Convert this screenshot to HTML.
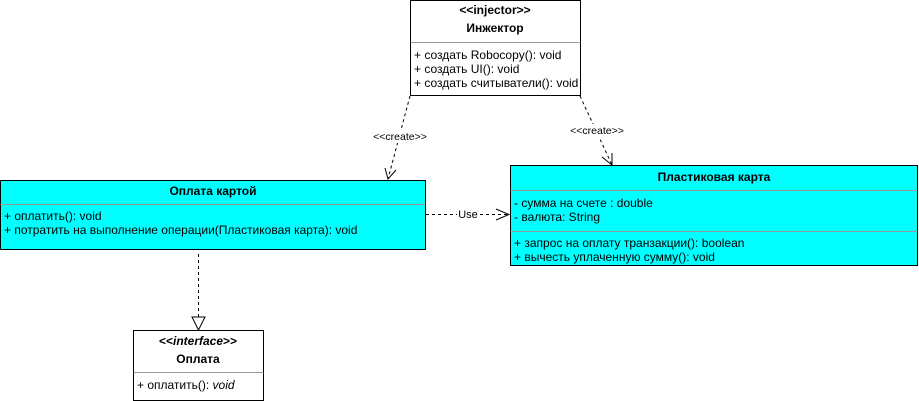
<!DOCTYPE html>
<html><head><meta charset="utf-8"><style>
html,body{margin:0;padding:0;background:#fff;width:919px;height:401px;overflow:hidden}
svg text{font-family:"Liberation Sans","DejaVu Sans",sans-serif;fill:#000}
</style></head><body>
<svg width="919" height="401" xmlns="http://www.w3.org/2000/svg">
<!-- Injector -->
<rect x="410.5" y="0.5" width="170" height="95" fill="#fff" stroke="#000"/>
<line x1="410.5" y1="42.5" x2="580.5" y2="42.5" stroke="#999"/>
<text x="495" y="14" font-size="12" font-weight="bold" text-anchor="middle">&lt;&lt;injector&gt;&gt;</text>
<text x="495" y="32" font-size="12" font-weight="bold" text-anchor="middle">Инжектор</text>
<text x="414" y="59" font-size="12">+ создать Robocopy(): void</text>
<text x="414" y="73" font-size="12">+ создать UI(): void</text>
<text x="414" y="87" font-size="12">+ создать считыватели(): void</text>

<!-- Оплата картой -->
<rect x="0.5" y="180.5" width="425" height="69" fill="#00ffff" stroke="#000"/>
<line x1="0.5" y1="204.5" x2="425.5" y2="204.5" stroke="#999"/>
<text x="213" y="195" font-size="12" font-weight="bold" text-anchor="middle">Оплата картой</text>
<text x="4" y="220" font-size="12">+ оплатить(): void</text>
<text x="4" y="234" font-size="12">+ потратить на выполнение операции(Пластиковая карта): void</text>

<!-- Пластиковая карта -->
<rect x="510.5" y="165.5" width="407" height="100" fill="#00ffff" stroke="#000"/>
<line x1="510.5" y1="190.5" x2="917.5" y2="190.5" stroke="#999"/>
<line x1="510.5" y1="231.5" x2="917.5" y2="231.5" stroke="#999"/>
<text x="714" y="181" font-size="12" font-weight="bold" text-anchor="middle">Пластиковая карта</text>
<text x="514" y="207" font-size="12">- сумма на счете : double</text>
<text x="514" y="221" font-size="12">- валюта: String</text>
<text x="514" y="247" font-size="12">+ запрос на оплату транзакции(): boolean</text>
<text x="514" y="261" font-size="12">+ вычесть уплаченную сумму(): void</text>

<!-- Оплата interface -->
<rect x="133.5" y="330.5" width="130" height="70" fill="#fff" stroke="#000"/>
<line x1="133.5" y1="372.5" x2="263.5" y2="372.5" stroke="#999"/>
<text x="198" y="345" font-size="12" font-weight="bold" text-anchor="middle">&lt;&lt;<tspan font-style="italic">interface</tspan>&gt;&gt;</text>
<text x="198" y="363" font-size="12" font-weight="bold" text-anchor="middle">Оплата</text>
<text x="137" y="389" font-size="12">+ оплатить(): <tspan font-style="italic">void</tspan></text>

<!-- create arrows -->
<line x1="410" y1="96" x2="388" y2="179" stroke="#000" stroke-dasharray="3,3"/>
<polyline points="385,168 388,179 396,170" fill="none" stroke="#000"/>
<rect x="370" y="130" width="60" height="13" fill="#fff"/>
<text x="400" y="140" font-size="10.5" text-anchor="middle">&lt;&lt;create&gt;&gt;</text>

<line x1="580" y1="96" x2="612" y2="165" stroke="#000" stroke-dasharray="3,3"/>
<polyline points="602,157 612,165 612,153" fill="none" stroke="#000"/>
<rect x="567" y="124" width="60" height="13" fill="#fff"/>
<text x="597" y="134" font-size="10.5" text-anchor="middle">&lt;&lt;create&gt;&gt;</text>

<!-- Use -->
<line x1="426" y1="214.5" x2="509" y2="214.5" stroke="#000" stroke-dasharray="3,3"/>
<polyline points="496,209 509,214.5 496,220" fill="none" stroke="#000"/>
<rect x="457" y="208" width="22" height="12" fill="#fff"/>
<text x="468" y="218" font-size="11" text-anchor="middle">Use</text>

<!-- realization -->
<line x1="198.5" y1="254" x2="198.5" y2="317" stroke="#000" stroke-dasharray="3,3"/>
<polygon points="192,317 205,317 198.5,330" fill="#fff" stroke="#000"/>
</svg>
</body></html>
